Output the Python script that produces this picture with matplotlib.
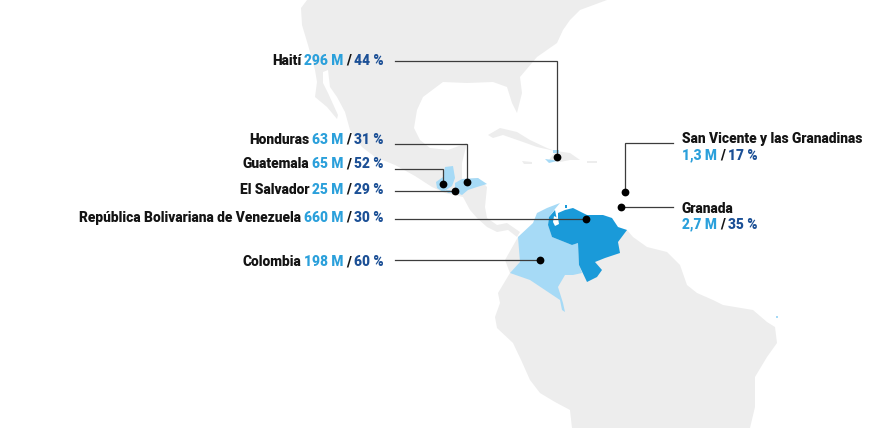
import matplotlib
matplotlib.use('Agg')
import matplotlib.pyplot as plt

plt.rcParams['font.family'] = ['Roboto', 'DejaVu Sans']

# data
countries_left = ['Haití', 'Honduras', 'Guatemala', 'El Salvador',
                  'República Bolivariana de Venezuela', 'Colombia']
values_left = ['296 M', '63 M', '65 M', '25 M', '660 M', '198 M']
shares_left = ['44 %', '31 %', '52 %', '29 %', '30 %', '60 %']
rows_left = [60.5, 139.5, 164.5, 189.5, 217.5, 262.5]

countries_right = ['San Vicente y las Granadinas', 'Granada']
values_right = ['1,3 M', '2,7 M']
shares_right = ['17 %', '35 %']
rows_right = [139.5, 208.5]

# leader lines, from the label to the dot on the map
leader_haiti = [(395, 61), (557, 61), (557, 157)]
leader_honduras = [(395, 143.5), (467, 143.5), (467, 182)]
leader_guatemala = [(395, 169), (443, 169), (443, 184)]
leader_salvador = [(395, 191), (455, 191)]
leader_venezuela = [(395, 219), (586, 219)]
leader_colombia = [(395, 260), (540, 260)]
leader_vicente = [(673, 143), (625, 143), (625, 192)]
leader_granada = [(673, 207), (621, 207)]

# map outlines
north_america = [(307, 0), (301, 8), (302, 25), (308, 45), (315, 70), (317, 82), (315, 97),
                 (327, 107), (337, 119), (338, 115), (328, 93), (323, 83), (323, 72), (328, 70),
                 (330, 87), (337, 97), (345, 112), (350, 130), (362, 147), (375, 157), (395, 165),
                 (415, 176), (432, 187), (445, 193), (463, 197), (470, 210), (477, 218), (487, 227),
                 (497, 232), (508, 230), (517, 237), (520, 232), (507, 223), (497, 225), (487, 218),
                 (485, 207), (487, 187), (478, 178), (462, 179), (462, 163), (467, 143), (448, 150),
                 (430, 148), (420, 140), (414, 128), (417, 110), (423, 97), (443, 82), (467, 83),
                 (493, 82), (507, 87), (512, 103), (517, 113), (522, 93), (520, 77), (537, 57),
                 (557, 43), (563, 30), (570, 20), (580, 10), (607, 0)]
south_america = [(518, 237), (505, 260), (510, 273), (498, 293), (500, 303), (495, 317), (497, 328),
                 (513, 343), (522, 362), (530, 380), (540, 393), (555, 402), (570, 410), (572, 428),
                 (750, 428), (755, 407), (755, 377), (767, 357), (777, 343), (775, 327), (767, 322),
                 (753, 310), (723, 305), (713, 300), (697, 293), (687, 285), (680, 265), (667, 252),
                 (647, 247), (633, 237), (627, 230), (600, 225), (550, 225)]
cuba = [(488, 135), (500, 128), (517, 132), (530, 140), (547, 148), (555, 151), (537, 147),
        (523, 142), (503, 135), (493, 138)]
hispaniola = [(556, 151), (570, 153), (580, 160), (570, 160), (560, 162), (548, 161)]
jamaica = [(522, 161), (532, 162), (532, 164), (524, 164)]
puerto_rico = [(587, 161), (597, 161), (597, 163), (587, 163)]

colombia = [(560, 203), (555, 209), (549, 217), (548, 225), (552, 237), (572, 245), (578, 243),
            (579, 265), (582, 273), (573, 275), (565, 275), (558, 287), (563, 303), (565, 312),
            (562, 310), (560, 300), (545, 290), (530, 280), (510, 273), (520, 262), (518, 237),
            (533, 223), (537, 213), (547, 208)]
venezuela = [(555, 210), (549, 217), (548, 225), (552, 237), (572, 245), (578, 243), (579, 265),
             (587, 282), (597, 277), (602, 270), (595, 262), (605, 258), (620, 253), (618, 242),
             (627, 230), (618, 227), (612, 218), (603, 215), (587, 215), (573, 208), (565, 210),
             (558, 213), (558, 225)]
lake_maracaibo = [(554, 216), (558, 218), (559, 224), (555, 226), (553, 222)]
curacao = [(565, 205), (567, 205), (567, 208), (565, 208)]
guatemala = [(445, 167), (453, 166), (455, 178), (452, 186), (443, 192), (437, 188), (436, 182),
             (443, 177), (444, 172)]
salvador = [(445, 190), (450, 190), (454, 193), (448, 193)]
honduras = [(455, 183), (462, 179), (478, 178), (487, 184), (477, 187), (468, 190), (462, 195),
            (455, 192)]
haiti_north = [(553, 150), (559, 150), (559, 153), (553, 153)]
haiti_south = [(545, 159), (553, 160), (557, 161), (549, 163)]
noronha = [(776, 316), (778, 316), (778, 318), (776, 318)]

GREY = '#ededed'
LIGHT = '#a6daf6'
BLUE = '#1a9ad9'
VALUE = '#2ba0db'
SHARE = '#1c5096'
INK = '#141414'
FS = 9.95

fig = plt.figure(figsize=(8.9, 4.28), dpi=100)
ax = fig.add_axes([0, 0, 1, 1])
ax.set_xlim(0, 890)
ax.set_ylim(428, 0)
ax.axis('off')

for shape in [north_america, south_america, cuba, hispaniola, jamaica, puerto_rico]:
    ax.fill(*zip(*shape), color=GREY, lw=0)
for shape in [colombia, guatemala, salvador, honduras, haiti_north, haiti_south, noronha]:
    ax.fill(*zip(*shape), color=LIGHT, lw=0)
for shape in [venezuela, curacao]:
    ax.fill(*zip(*shape), color=BLUE, lw=0)
ax.fill(*zip(*lake_maracaibo), color='white', lw=0)

leaders = [leader_haiti, leader_honduras, leader_guatemala, leader_salvador,
           leader_venezuela, leader_colombia, leader_vicente, leader_granada]
for leader in leaders:
    xs, ys = zip(*leader)
    ax.plot(xs, ys, color='#3c3c3c', lw=0.9, solid_joinstyle='miter')
    ax.plot(xs[-1], ys[-1], 'o', color='black', ms=5.6, mew=0)

renderer = fig.canvas.get_renderer()


def write_row(x, y, parts):
    # parts are (text, colour, gap after), written left to right from x
    for text, color, gap in parts:
        t = ax.text(x, y, text, color=color, fontsize=FS, fontweight=900, ha='left', va='center')
        x += t.get_window_extent(renderer).width + gap


def row_width(parts):
    width = 0
    for text, color, gap in parts:
        t = ax.text(0, 0, text, fontsize=FS, fontweight=900)
        width += t.get_window_extent(renderer).width + gap
        t.remove()
    return width


# labels on the left, right aligned
for name, value, share, y in zip(countries_left, values_left, shares_left, rows_left):
    parts = [(name, INK, 3), (value, VALUE, 3), ('/', INK, 3), (share, SHARE, 0)]
    write_row(384 - row_width(parts), y, parts)

# labels on the right, two rows
for name, value, share, y in zip(countries_right, values_right, shares_right, rows_right):
    write_row(682, y, [(name, INK, 0)])
    write_row(682, y + 16, [(value, VALUE, 3), ('/', INK, 3), (share, SHARE, 0)])

fig.savefig('out.png', dpi=100)
